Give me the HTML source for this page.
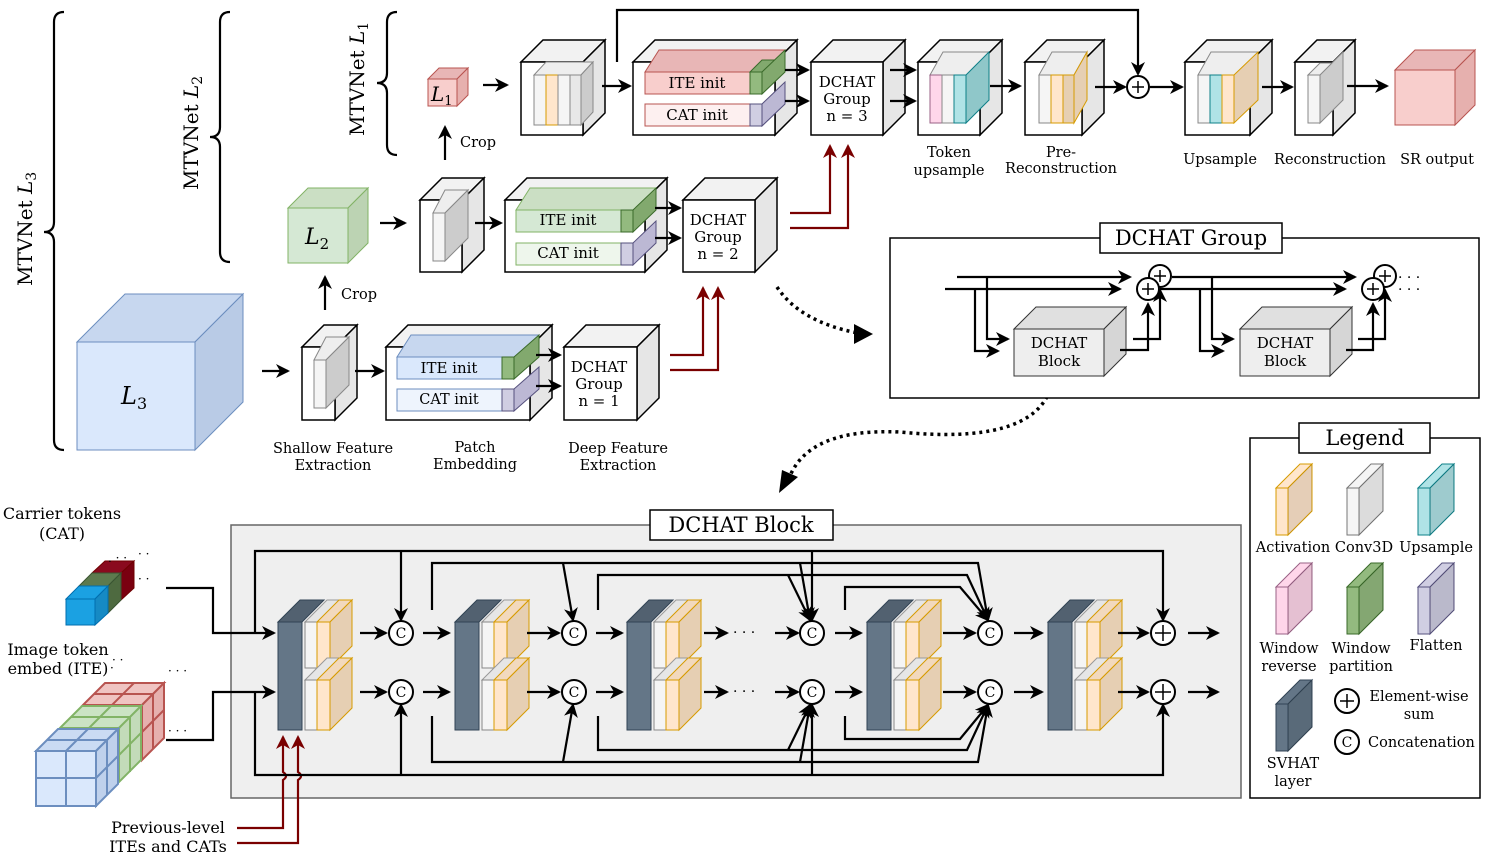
<!DOCTYPE html>
<html><head><meta charset="utf-8"><style>
html,body{margin:0;padding:0;background:#fff}
svg{display:block}
text{font-family:"DejaVu Serif","Liberation Serif",serif;fill:#000}
.t{font-size:15px}
.m{font-size:14.5px}
.ln{fill:none;stroke:#000;stroke-width:2.2}
.rd{fill:none;stroke:#7a0000;stroke-width:2.2}
</style></head><body>
<svg width="1495" height="859" viewBox="0 0 1495 859" xmlns="http://www.w3.org/2000/svg">
<defs>
<marker id="a" markerWidth="14" markerHeight="14" refX="12" refY="7" orient="auto" markerUnits="userSpaceOnUse"><path d="M0,0 L14,7 L0,14 L4,7 z" fill="#000"/></marker>
<marker id="r" markerWidth="14" markerHeight="14" refX="12" refY="7" orient="auto" markerUnits="userSpaceOnUse"><path d="M0,0 L14,7 L0,14 L4,7 z" fill="#7a0000"/></marker>
<g id="svhat">
  <polygon points="0,22 22,0 46,0 24,22" fill="#526170" stroke="#314354"/>
  <rect x="0" y="22" width="24" height="108" fill="#647687" stroke="#314354"/>
  <g>
    <polygon points="27,22 49,0 74,0 52,22" fill="#e6e6e6" stroke="#999"/>
    <rect x="27" y="22" width="12" height="46" fill="#f5f5f5" stroke="#888"/>
    <polygon points="39,22 61,0 74,0 52,22" fill="#f2d9bd" stroke="#d79b00"/>
    <rect x="39" y="22" width="13" height="46" fill="#ffe6cc" stroke="#d79b00"/>
    <polygon points="52,22 74,0 74,46 52,68" fill="#e6cfb3" stroke="#d79b00"/>
  </g>
  <g transform="translate(0,58)">
    <polygon points="27,22 49,0 74,0 52,22" fill="#e6e6e6" stroke="#999"/>
    <rect x="27" y="22" width="12" height="50" fill="#f5f5f5" stroke="#888"/>
    <polygon points="39,22 61,0 74,0 52,22" fill="#f2d9bd" stroke="#d79b00"/>
    <rect x="39" y="22" width="13" height="50" fill="#ffe6cc" stroke="#d79b00"/>
    <polygon points="52,22 74,0 74,50 52,72" fill="#e6cfb3" stroke="#d79b00"/>
  </g>
</g>
<g id="lslab">
  <polygon points="0,24 24,0 36,0 12,24" fill="inherit"/>
  <rect x="0" y="24" width="12" height="47"/>
  <polygon points="12,24 36,0 36,47 12,71"/>
  <polygon points="12,24 36,0 36,47 12,71" fill="#000" fill-opacity="0.1" stroke="none"/>
</g>
</defs>

<!-- Braces -->
<path d="M64,12 Q54,12 54,22 L54,222 Q54,232 44,232 Q54,232 54,242 L54,440 Q54,450 64,450" class="ln"/>
<text transform="translate(32,286) rotate(-90)" font-size="20">MTVNet <tspan font-style="italic">L</tspan><tspan font-size="14" dy="4">3</tspan></text>
<path d="M230,12 Q220,12 220,22 L220,127 Q220,137 210,137 Q220,137 220,147 L220,252 Q220,262 230,262" class="ln"/>
<text transform="translate(198,190) rotate(-90)" font-size="20">MTVNet <tspan font-style="italic">L</tspan><tspan font-size="14" dy="4">2</tspan></text>
<path d="M397,12 Q387,12 387,22 L387,73 Q387,83 377,83 Q387,83 387,93 L387,145 Q387,155 397,155" class="ln"/>
<text transform="translate(364,136) rotate(-90)" font-size="20">MTVNet <tspan font-style="italic">L</tspan><tspan font-size="14" dy="4">1</tspan></text>

<!-- L1 row -->
<polygon points="428,79 439,68 468,68 457,79" fill="#e8b6b6" stroke="#b85450"/>
<polygon points="457,79 468,68 468,95 457,106" fill="#e6b0ae" stroke="#b85450"/>
<rect x="428" y="79" width="29" height="27" fill="#f8cecc" stroke="#b85450"/>
<text x="431" y="101" font-size="20" font-style="italic">L<tspan font-size="13" dy="4" font-style="normal">1</tspan></text>
<line x1="483" y1="85" x2="507" y2="85" class="ln" marker-end="url(#a)"/>
<line x1="445" y1="160" x2="445" y2="127" class="ln" marker-end="url(#a)"/>
<text x="460" y="147" class="m">Crop</text>

<!-- shallow cube L1 -->
<polygon points="521,62 543,40 605,40 583,62" fill="#f2f2f2" stroke="#000" stroke-width="1.5"/>
<polygon points="583,62 605,40 605,113 583,135" fill="#e6e6e6" stroke="#000" stroke-width="1.5"/>
<rect x="521" y="62" width="62" height="73" fill="#fff" stroke="#000" stroke-width="1.5"/>
<polygon points="534,75 546,62 593,62 581,75" fill="#eee" stroke="#888"/>
<polygon points="581,75 593,62 593,112 581,125" fill="#ccc" stroke="#888"/>
<rect x="534" y="75" width="12" height="50" fill="#f5f5f5" stroke="#888"/>
<rect x="546" y="75" width="12" height="50" fill="#ffe6cc" stroke="#d79b00"/>
<rect x="558" y="75" width="12" height="50" fill="#f5f5f5" stroke="#888"/>
<rect x="570" y="75" width="11" height="50" fill="#e8e8e8" stroke="#888"/>
<path d="M617,62 L617,10 L1138,10 L1138,74" class="ln" marker-end="url(#a)"/>
<line x1="602" y1="86" x2="630" y2="86" class="ln" marker-end="url(#a)"/>

<!-- patch emb L1 -->
<polygon points="633,62 655,40 797,40 775,62" fill="#f2f2f2" stroke="#000" stroke-width="1.5"/>
<polygon points="775,62 797,40 797,113 775,135" fill="#e6e6e6" stroke="#000" stroke-width="1.5"/>
<rect x="633" y="62" width="142" height="73" fill="#fff" stroke="#000" stroke-width="1.5"/>
<polygon points="645,72 659,50 785,50 771,72" fill="#e8b6b6" stroke="#b85450"/>
<rect x="645" y="72" width="105" height="22" fill="#f8cecc" stroke="#b85450"/>
<rect x="750" y="72" width="12" height="22" fill="#93ba7f" stroke="#3a6a2a"/>
<polygon points="750,72 762,60 785,60 762,72" fill="#82a96e" stroke="#3a6a2a"/>
<polygon points="762,72 785,50 785,72 762,94" fill="#82a96e" stroke="#3a6a2a"/>
<rect x="645" y="104" width="105" height="22" fill="#fdf0f0" stroke="#b85450"/>
<rect x="750" y="104" width="12" height="22" fill="#d0cee2" stroke="#56517e"/>
<polygon points="762,104 785,82 785,104 762,126" fill="#bcb8d4" stroke="#56517e"/>
<text x="697" y="88" class="t" text-anchor="middle">ITE init</text>
<text x="697" y="120" class="t" text-anchor="middle">CAT init</text>
<line x1="785" y1="70" x2="808" y2="70" class="ln" marker-end="url(#a)"/>
<line x1="785" y1="101" x2="808" y2="101" class="ln" marker-end="url(#a)"/>

<!-- DCHAT n=3 -->
<polygon points="811,62 833,40 905,40 883,62" fill="#f2f2f2" stroke="#000" stroke-width="1.5"/>
<polygon points="883,62 905,40 905,113 883,135" fill="#e6e6e6" stroke="#000" stroke-width="1.5"/>
<rect x="811" y="62" width="72" height="73" fill="#fff" stroke="#000" stroke-width="1.5"/>
<text x="847" y="87" class="t" text-anchor="middle">DCHAT</text>
<text x="847" y="104" class="t" text-anchor="middle">Group</text>
<text x="847" y="121" class="t" text-anchor="middle">n = 3</text>
<line x1="890" y1="70" x2="915" y2="70" class="ln" marker-end="url(#a)"/>
<line x1="890" y1="101" x2="915" y2="101" class="ln" marker-end="url(#a)"/>

<!-- Token upsample -->
<polygon points="918,62 940,40 1002,40 980,62" fill="#f2f2f2" stroke="#000" stroke-width="1.5"/>
<polygon points="980,62 1002,40 1002,113 980,135" fill="#e6e6e6" stroke="#000" stroke-width="1.5"/>
<rect x="918" y="62" width="62" height="73" fill="#fff" stroke="#000" stroke-width="1.5"/>
<polygon points="930,75 943,52 989,52 977,75" fill="#eee" stroke="#888"/>
<polygon points="966,75 989,52 989,100 966,123" fill="#8fc7c9" stroke="#0e8088"/>
<rect x="930" y="75" width="12" height="48" fill="#ffd6ea" stroke="#996185"/>
<rect x="942" y="75" width="12" height="48" fill="#f5f5f5" stroke="#888"/>
<rect x="954" y="75" width="12" height="48" fill="#b0e3e6" stroke="#0e8088"/>
<text x="949" y="157" class="m" text-anchor="middle">Token</text>
<text x="949" y="175" class="m" text-anchor="middle">upsample</text>
<line x1="990" y1="86" x2="1020" y2="86" class="ln" marker-end="url(#a)"/>

<!-- Pre-recon -->
<polygon points="1025,62 1047,40 1104,40 1082,62" fill="#f2f2f2" stroke="#000" stroke-width="1.5"/>
<polygon points="1082,62 1104,40 1104,113 1082,135" fill="#e6e6e6" stroke="#000" stroke-width="1.5"/>
<rect x="1025" y="62" width="57" height="73" fill="#fff" stroke="#000" stroke-width="1.5"/>
<polygon points="1039,75 1052,52 1087,52 1074,75" fill="#eee" stroke="#888"/>
<polygon points="1074,75 1087,52 1087,100 1074,123" fill="#e6cfb3" stroke="#d79b00"/>
<rect x="1039" y="75" width="12" height="48" fill="#f5f5f5" stroke="#888"/>
<rect x="1051" y="75" width="12" height="48" fill="#ffe6cc" stroke="#d79b00"/>
<rect x="1063" y="75" width="11" height="48" fill="#e6cfb3" stroke="#d79b00"/>
<text x="1061" y="157" class="m" text-anchor="middle">Pre-</text>
<text x="1061" y="173" class="m" text-anchor="middle">Reconstruction</text>
<line x1="1095" y1="87" x2="1125" y2="87" class="ln" marker-end="url(#a)"/>
<circle cx="1138" cy="87" r="11" fill="#fff" stroke="#000" stroke-width="2"/>
<path d="M1132,87 h12 M1138,81 v12" stroke="#000" stroke-width="1.5"/>
<line x1="1150" y1="87" x2="1182" y2="87" class="ln" marker-end="url(#a)"/>

<!-- Upsample -->
<polygon points="1185,62 1207,40 1272,40 1250,62" fill="#f2f2f2" stroke="#000" stroke-width="1.5"/>
<polygon points="1250,62 1272,40 1272,113 1250,135" fill="#e6e6e6" stroke="#000" stroke-width="1.5"/>
<rect x="1185" y="62" width="65" height="73" fill="#fff" stroke="#000" stroke-width="1.5"/>
<polygon points="1198,75 1211,52 1258,52 1245,75" fill="#eee" stroke="#888"/>
<polygon points="1234,75 1258,52 1258,100 1234,123" fill="#e6cfb3" stroke="#d79b00"/>
<rect x="1198" y="75" width="12" height="48" fill="#f5f5f5" stroke="#888"/>
<rect x="1210" y="75" width="12" height="48" fill="#b0e3e6" stroke="#0e8088"/>
<rect x="1222" y="75" width="12" height="48" fill="#ffe6cc" stroke="#d79b00"/>
<text x="1220" y="164" class="m" text-anchor="middle">Upsample</text>
<line x1="1262" y1="87" x2="1292" y2="87" class="ln" marker-end="url(#a)"/>

<!-- Reconstruction -->
<polygon points="1295,62 1317,40 1355,40 1333,62" fill="#f2f2f2" stroke="#000" stroke-width="1.5"/>
<polygon points="1333,62 1355,40 1355,113 1333,135" fill="#e6e6e6" stroke="#000" stroke-width="1.5"/>
<rect x="1295" y="62" width="38" height="73" fill="#fff" stroke="#000" stroke-width="1.5"/>
<polygon points="1308,75 1320,63 1343,63 1320,75" fill="#eee" stroke="#888"/>
<polygon points="1320,75 1343,52 1343,100 1320,123" fill="#ccc" stroke="#888"/>
<rect x="1308" y="75" width="12" height="48" fill="#f5f5f5" stroke="#888"/>
<text x="1330" y="164" class="m" text-anchor="middle">Reconstruction</text>
<line x1="1347" y1="86" x2="1387" y2="86" class="ln" marker-end="url(#a)"/>

<!-- SR output -->
<polygon points="1395,70 1415,50 1475,50 1455,70" fill="#e8b6b6" stroke="#b85450"/>
<polygon points="1455,70 1475,50 1475,105 1455,125" fill="#e6b0ae" stroke="#b85450"/>
<rect x="1395" y="70" width="60" height="55" fill="#f8cecc" stroke="#b85450"/>
<text x="1437" y="164" class="m" text-anchor="middle">SR output</text>

<!-- L2 row -->
<polygon points="288,208 308,188 368,188 348,208" fill="#cbdfc4" stroke="#82b366"/>
<polygon points="348,208 368,188 368,243 348,263" fill="#bcd3b3" stroke="#82b366"/>
<rect x="288" y="208" width="60" height="55" fill="#d5e8d4" stroke="#82b366"/>
<text x="305" y="244" font-size="22" font-style="italic">L<tspan font-size="15" dy="5" font-style="normal">2</tspan></text>
<line x1="325" y1="310" x2="325" y2="277" class="ln" marker-end="url(#a)"/>
<text x="341" y="299" class="m">Crop</text>
<line x1="380" y1="223" x2="405" y2="223" class="ln" marker-end="url(#a)"/>

<polygon points="420,200 442,178 484,178 462,200" fill="#f2f2f2" stroke="#000" stroke-width="1.5"/>
<polygon points="462,200 484,178 484,250 462,272" fill="#e6e6e6" stroke="#000" stroke-width="1.5"/>
<rect x="420" y="200" width="42" height="72" fill="#fff" stroke="#000" stroke-width="1.5"/>
<polygon points="433,213 445,190 468,190 445,213" fill="#eee" stroke="#888"/>
<polygon points="445,213 468,190 468,238 445,261" fill="#ccc" stroke="#888"/>
<rect x="433" y="213" width="12" height="48" fill="#f5f5f5" stroke="#888"/>
<line x1="475" y1="223" x2="501" y2="223" class="ln" marker-end="url(#a)"/>

<polygon points="505,200 527,178 667,178 645,200" fill="#f2f2f2" stroke="#000" stroke-width="1.5"/>
<polygon points="645,200 667,178 667,250 645,272" fill="#e6e6e6" stroke="#000" stroke-width="1.5"/>
<rect x="505" y="200" width="140" height="72" fill="#fff" stroke="#000" stroke-width="1.5"/>
<polygon points="516,210 530,188 656,188 642,210" fill="#cbdfc4" stroke="#82b366"/>
<rect x="516" y="210" width="105" height="22" fill="#d5e8d4" stroke="#82b366"/>
<rect x="621" y="210" width="12" height="22" fill="#93ba7f" stroke="#3a6a2a"/>
<polygon points="633,210 656,188 656,210 633,232" fill="#82a96e" stroke="#3a6a2a"/>
<rect x="516" y="243" width="105" height="22" fill="#eef6ec" stroke="#82b366"/>
<rect x="621" y="243" width="12" height="22" fill="#d0cee2" stroke="#56517e"/>
<polygon points="633,243 656,221 656,243 633,265" fill="#bcb8d4" stroke="#56517e"/>
<text x="568" y="225" class="t" text-anchor="middle">ITE init</text>
<text x="568" y="258" class="t" text-anchor="middle">CAT init</text>
<line x1="655" y1="208" x2="680" y2="208" class="ln" marker-end="url(#a)"/>
<line x1="655" y1="238" x2="680" y2="238" class="ln" marker-end="url(#a)"/>

<polygon points="683,200 705,178 777,178 755,200" fill="#f2f2f2" stroke="#000" stroke-width="1.5"/>
<polygon points="755,200 777,178 777,250 755,272" fill="#e6e6e6" stroke="#000" stroke-width="1.5"/>
<rect x="683" y="200" width="72" height="72" fill="#fff" stroke="#000" stroke-width="1.5"/>
<text x="718" y="225" class="t" text-anchor="middle">DCHAT</text>
<text x="718" y="242" class="t" text-anchor="middle">Group</text>
<text x="718" y="259" class="t" text-anchor="middle">n = 2</text>
<path d="M790,213 L830,213 L830,146" class="rd" marker-end="url(#r)"/>
<path d="M790,228 L848,228 L848,146" class="rd" marker-end="url(#r)"/>

<!-- L3 row -->
<polygon points="77,342 125,294 243,294 195,342" fill="#c7d7ef" stroke="#6c8ebf"/>
<polygon points="195,342 243,294 243,402 195,450" fill="#b9cbe6" stroke="#6c8ebf"/>
<rect x="77" y="342" width="118" height="108" fill="#dae8fc" stroke="#6c8ebf"/>
<text x="121" y="404" font-size="24" font-style="italic">L<tspan font-size="16" dy="5" font-style="normal">3</tspan></text>
<line x1="262" y1="371" x2="288" y2="371" class="ln" marker-end="url(#a)"/>

<polygon points="302,347 324,325 357,325 335,347" fill="#f2f2f2" stroke="#000" stroke-width="1.5"/>
<polygon points="335,347 357,325 357,398 335,420" fill="#e6e6e6" stroke="#000" stroke-width="1.5"/>
<rect x="302" y="347" width="33" height="73" fill="#fff" stroke="#000" stroke-width="1.5"/>
<polygon points="314,360 326,337 349,337 326,360" fill="#eee" stroke="#888"/>
<polygon points="326,360 349,337 349,385 326,408" fill="#ccc" stroke="#888"/>
<rect x="314" y="360" width="12" height="48" fill="#f5f5f5" stroke="#888"/>
<line x1="355" y1="371" x2="383" y2="371" class="ln" marker-end="url(#a)"/>
<text x="333" y="453" class="m" text-anchor="middle">Shallow Feature</text>
<text x="333" y="470" class="m" text-anchor="middle">Extraction</text>

<polygon points="386,347 408,325 552,325 530,347" fill="#f2f2f2" stroke="#000" stroke-width="1.5"/>
<polygon points="530,347 552,325 552,398 530,420" fill="#e6e6e6" stroke="#000" stroke-width="1.5"/>
<rect x="386" y="347" width="144" height="73" fill="#fff" stroke="#000" stroke-width="1.5"/>
<polygon points="397,357 411,335 539,335 525,357" fill="#c7d7ef" stroke="#6c8ebf"/>
<rect x="397" y="357" width="105" height="22" fill="#dae8fc" stroke="#6c8ebf"/>
<rect x="502" y="357" width="12" height="22" fill="#93ba7f" stroke="#3a6a2a"/>
<polygon points="514,357 539,335 539,357 514,379" fill="#82a96e" stroke="#3a6a2a"/>
<rect x="397" y="389" width="105" height="22" fill="#eef4fd" stroke="#6c8ebf"/>
<rect x="502" y="389" width="12" height="22" fill="#d0cee2" stroke="#56517e"/>
<polygon points="514,389 539,367 539,389 514,411" fill="#bcb8d4" stroke="#56517e"/>
<text x="449" y="373" class="t" text-anchor="middle">ITE init</text>
<text x="449" y="404" class="m" text-anchor="middle">CAT init</text>
<line x1="536" y1="355" x2="560" y2="355" class="ln" marker-end="url(#a)"/>
<line x1="536" y1="386" x2="560" y2="386" class="ln" marker-end="url(#a)"/>
<text x="475" y="452" class="m" text-anchor="middle">Patch</text>
<text x="475" y="469" class="m" text-anchor="middle">Embedding</text>

<polygon points="564,347 586,325 659,325 637,347" fill="#f2f2f2" stroke="#000" stroke-width="1.5"/>
<polygon points="637,347 659,325 659,398 637,420" fill="#e6e6e6" stroke="#000" stroke-width="1.5"/>
<rect x="564" y="347" width="73" height="73" fill="#fff" stroke="#000" stroke-width="1.5"/>
<text x="599" y="372" class="t" text-anchor="middle">DCHAT</text>
<text x="599" y="389" class="t" text-anchor="middle">Group</text>
<text x="599" y="406" class="t" text-anchor="middle">n = 1</text>
<text x="618" y="453" class="m" text-anchor="middle">Deep Feature</text>
<text x="618" y="470" class="m" text-anchor="middle">Extraction</text>
<path d="M670,355 L703,355 L703,288" class="rd" marker-end="url(#r)"/>
<path d="M670,370 L718,370 L718,288" class="rd" marker-end="url(#r)"/>

<!-- dotted arrows -->
<path d="M777,287 Q800,322 858,333" fill="none" stroke="#000" stroke-width="3.5" stroke-dasharray="3,4"/>
<path d="M854,324 L873,334 L854,344 z" fill="#000"/>
<path d="M1050,390 Q1030,445 900,432 Q810,428 790,476" fill="none" stroke="#000" stroke-width="3.5" stroke-dasharray="3,4"/>
<path d="M779,493 L782,470 L798,477 z" fill="#000"/>

<!-- DCHAT Group box -->
<rect x="890" y="238" width="589" height="160" fill="#fff" stroke="#000" stroke-width="1.5"/>
<rect x="1100" y="223" width="182" height="30" fill="#fff" stroke="#000" stroke-width="1.5"/>
<text x="1191" y="245" font-size="21" text-anchor="middle">DCHAT Group</text>
<g>
<line x1="957" y1="277" x2="1130" y2="277" class="ln" marker-end="url(#a)"/>
<line x1="945" y1="289" x2="1120" y2="289" class="ln" marker-end="url(#a)"/>
<path d="M987,277 L987,339 L1008,339" class="ln" marker-end="url(#a)"/>
<path d="M975,289 L975,351 L998,351" class="ln" marker-end="url(#a)"/>
<polygon points="1014,329 1036,307 1126,307 1104,329" fill="#e0e0e0" stroke="#333"/>
<polygon points="1104,329 1126,307 1126,354 1104,376" fill="#d6d6d6" stroke="#333"/>
<rect x="1014" y="329" width="90" height="47" fill="#eeeeee" stroke="#333"/>
<text x="1059" y="348" class="t" text-anchor="middle">DCHAT</text>
<text x="1059" y="366" class="t" text-anchor="middle">Block</text>
<path d="M1120,350 L1148,350 L1148,304" class="ln" marker-end="url(#a)"/>
<path d="M1133,339 L1160,339 L1160,290" class="ln" marker-end="url(#a)"/>
<circle cx="1160" cy="276" r="11" fill="#fff" stroke="#000" stroke-width="2"/>
<path d="M1154,276 h12 M1160,270 v12" stroke="#000" stroke-width="1.5"/>
<circle cx="1148" cy="289" r="11" fill="#fff" stroke="#000" stroke-width="2"/>
<path d="M1142,289 h12 M1148,283 v12" stroke="#000" stroke-width="1.5"/>
</g>
<g>
<line x1="1172" y1="277" x2="1355" y2="277" class="ln" marker-end="url(#a)"/>
<line x1="1160" y1="289" x2="1345" y2="289" class="ln" marker-end="url(#a)"/>
<path d="M1212,277 L1212,339 L1233,339" class="ln" marker-end="url(#a)"/>
<path d="M1200,289 L1200,351 L1223,351" class="ln" marker-end="url(#a)"/>
<polygon points="1240,329 1262,307 1352,307 1330,329" fill="#e0e0e0" stroke="#333"/>
<polygon points="1330,329 1352,307 1352,354 1330,376" fill="#d6d6d6" stroke="#333"/>
<rect x="1240" y="329" width="90" height="47" fill="#eeeeee" stroke="#333"/>
<text x="1285" y="348" class="t" text-anchor="middle">DCHAT</text>
<text x="1285" y="366" class="t" text-anchor="middle">Block</text>
<path d="M1346,350 L1373,350 L1373,304" class="ln" marker-end="url(#a)"/>
<path d="M1358,339 L1385,339 L1385,290" class="ln" marker-end="url(#a)"/>
<circle cx="1385" cy="276" r="11" fill="#fff" stroke="#000" stroke-width="2"/>
<path d="M1379,276 h12 M1385,270 v12" stroke="#000" stroke-width="1.5"/>
<circle cx="1373" cy="289" r="11" fill="#fff" stroke="#000" stroke-width="2"/>
<path d="M1367,289 h12 M1373,283 v12" stroke="#000" stroke-width="1.5"/>
<text x="1398" y="282" font-size="14">· · ·</text>
<text x="1398" y="294" font-size="14">· · ·</text>
</g>

<!-- Legend -->
<rect x="1250" y="438" width="230" height="360" fill="#fff" stroke="#000" stroke-width="1.5"/>
<rect x="1299" y="423" width="131" height="30" fill="#fff" stroke="#000" stroke-width="1.5"/>
<text x="1365" y="445" font-size="21" text-anchor="middle">Legend</text>
<use href="#lslab" x="1276" y="464" fill="#ffe6cc" stroke="#d79b00"/>
<use href="#lslab" x="1347" y="464" fill="#f5f5f5" stroke="#777"/>
<use href="#lslab" x="1418" y="464" fill="#b0e3e6" stroke="#0e8088"/>
<use href="#lslab" x="1276" y="563" fill="#ffd6ea" stroke="#996185"/>
<use href="#lslab" x="1347" y="563" fill="#93ba7f" stroke="#3a6a2a"/>
<use href="#lslab" x="1418" y="563" fill="#d0cee2" stroke="#56517e"/>
<use href="#lslab" x="1276" y="680" fill="#647687" stroke="#314354"/>
<text x="1293" y="552" class="m" text-anchor="middle">Activation</text>
<text x="1364" y="552" class="m" text-anchor="middle">Conv3D</text>
<text x="1436" y="552" class="m" text-anchor="middle">Upsample</text>
<text x="1289" y="653" class="m" text-anchor="middle">Window</text>
<text x="1289" y="671" class="m" text-anchor="middle">reverse</text>
<text x="1361" y="653" class="m" text-anchor="middle">Window</text>
<text x="1361" y="671" class="m" text-anchor="middle">partition</text>
<text x="1436" y="650" class="m" text-anchor="middle">Flatten</text>
<text x="1293" y="768" class="m" text-anchor="middle">SVHAT</text>
<text x="1293" y="786" class="m" text-anchor="middle">layer</text>
<circle cx="1347" cy="701" r="12" fill="#fff" stroke="#000" stroke-width="2"/>
<path d="M1340,701 h14 M1347,694 v14" stroke="#000" stroke-width="1.5"/>
<text x="1419" y="701" class="m" text-anchor="middle">Element-wise</text>
<text x="1419" y="719" class="m" text-anchor="middle">sum</text>
<circle cx="1347" cy="742" r="12" fill="#fff" stroke="#000" stroke-width="2"/>
<text x="1347" y="747" font-size="14" text-anchor="middle">C</text>
<text x="1368" y="747" class="m">Concatenation</text>

<!-- DCHAT Block box -->
<rect x="231" y="525" width="1010" height="273" fill="#efefef" stroke="#666" stroke-width="1.5"/>
<rect x="650" y="510" width="183" height="30" fill="#fff" stroke="#000" stroke-width="1.5"/>
<text x="741" y="532" font-size="21" text-anchor="middle">DCHAT Block</text>

<!-- left inputs -->
<text x="62" y="519" font-size="16" text-anchor="middle">Carrier tokens</text>
<text x="62" y="539" font-size="16" text-anchor="middle">(CAT)</text>
<polygon points="92,573 105,561 134,561 121,573" fill="#8a0a1e" stroke="#6f0000"/>
<polygon points="121,573 134,561 134,588 121,600" fill="#7a0010" stroke="#6f0000"/>
<polygon points="79,586 92,573 121,573 108,586" fill="#5d7a4e" stroke="#3a5431"/>
<polygon points="108,586 121,573 121,600 108,613" fill="#4e6a40" stroke="#3a5431"/>
<polygon points="66,599 79,586 108,586 95,599" fill="#1ba1e2" stroke="#006eaf"/>
<polygon points="95,599 108,586 108,613 95,625" fill="#168ac4" stroke="#006eaf"/>
<rect x="66" y="599" width="29" height="26" fill="#1ba1e2" stroke="#006eaf"/>
<text x="108" y="562" font-size="12">. · ·</text>
<text x="138" y="558" font-size="12">· ·</text>
<text x="138" y="583" font-size="12">· ·</text>
<path d="M166,588 L213,588 L213,633 L274,633" class="ln" marker-end="url(#a)"/>
<text x="58" y="655" font-size="16" text-anchor="middle">Image token</text>
<text x="58" y="674" font-size="16" text-anchor="middle">embed (ITE)</text>
<text x="110" y="672" font-size="12">·</text><text x="112" y="664" font-size="12">· ·</text>
<text x="168" y="675" font-size="12">· · ·</text>
<text x="168" y="735" font-size="12">· · ·</text>
<!-- ITE cubes -->
<g stroke-width="2">
<polygon points="83,705 105,683 164,683 142,705" fill="#f0c4c2" stroke="#b85450"/>
<polygon points="142,705 164,683 164,738 142,760" fill="#e6b0ae" stroke="#b85450"/>
<path d="M94,694 h59 M134,683 l-22,22 M153,694 v55 M142,732 l22,-22" stroke="#b85450" fill="none"/>
<polygon points="60,728 82,706 141,706 119,728" fill="#cbe3c4" stroke="#82b366"/>
<polygon points="119,728 141,706 141,760 119,782" fill="#c3dbb9" stroke="#82b366"/>
<path d="M71,717 h59 M111,706 l-22,22 M130,717 v55 M119,755 l22,-22" stroke="#82b366" fill="none"/>
<polygon points="36,751 58,729 118,729 96,751" fill="#cadbf3" stroke="#6c8ebf"/>
<polygon points="96,751 118,729 118,784 96,806" fill="#bfd1ec" stroke="#6c8ebf"/>
<rect x="36" y="751" width="60" height="55" fill="#dae8fc" stroke="#6c8ebf"/>
<path d="M47,740 h60 M88,729 l-22,22 M66,751 v55 M36,778 h60 M107,740 v55 M96,778 l22,-22" stroke="#6c8ebf" fill="none"/>
</g>
<path d="M166,740 L213,740 L213,692 L274,692" class="ln" marker-end="url(#a)"/>

<!-- previous level -->
<text x="168" y="833" font-size="16" text-anchor="middle">Previous-level</text>
<text x="168" y="852" font-size="16" text-anchor="middle">ITEs and CATs</text>
<path d="M237,828 L283,828 L283,780 q6,-4 0,-8 L283,737" class="rd" marker-end="url(#r)"/>
<path d="M237,843 L298,843 L298,780 q6,-4 0,-8 L298,737" class="rd" marker-end="url(#r)"/>

<!-- connection lines in block -->
<path d="M255,633 L255,551 L1163,551 L1163,620" class="ln" marker-end="url(#a)"/>
<path d="M401,551 L401,620" class="ln" marker-end="url(#a)"/>
<path d="M812,551 L812,620" class="ln" marker-end="url(#a)"/>
<path d="M255,692 L255,775 L1163,775 L1163,705" class="ln" marker-end="url(#a)"/>
<path d="M401,775 L401,705" class="ln" marker-end="url(#a)"/>
<path d="M812,775 L812,705" class="ln" marker-end="url(#a)"/>
<path d="M432,610 L432,563 L978,563 L988,620" class="ln" marker-end="url(#a)"/>
<path d="M563,563 L573,620" class="ln" marker-end="url(#a)"/>
<path d="M800,563 L810,620" class="ln" marker-end="url(#a)"/>
<path d="M432,716 L432,762 L978,762 L988,705" class="ln" marker-end="url(#a)"/>
<path d="M563,762 L573,705" class="ln" marker-end="url(#a)"/>
<path d="M800,762 L810,705" class="ln" marker-end="url(#a)"/>
<path d="M598,610 L598,575 L967,575 L988,620" class="ln" marker-end="url(#a)"/>
<path d="M598,716 L598,750 L967,750 L988,705" class="ln" marker-end="url(#a)"/>
<path d="M788,575 L810,620" class="ln" marker-end="url(#a)"/>
<path d="M788,750 L810,705" class="ln" marker-end="url(#a)"/>
<path d="M845,610 L845,587 L960,587 L988,620" class="ln" marker-end="url(#a)"/>
<path d="M845,716 L845,739 L960,739 L988,705" class="ln" marker-end="url(#a)"/>

<!-- units -->
<use href="#svhat" x="278" y="600"/>
<use href="#svhat" x="455" y="600"/>
<use href="#svhat" x="627" y="600"/>
<use href="#svhat" x="867" y="600"/>
<use href="#svhat" x="1048" y="600"/>

<!-- circles -->
<g fill="#fff" stroke="#000" stroke-width="2">
<circle cx="401" cy="633" r="12"/><circle cx="401" cy="692" r="12"/>
<circle cx="574" cy="633" r="12"/><circle cx="574" cy="692" r="12"/>
<circle cx="812" cy="633" r="12"/><circle cx="812" cy="692" r="12"/>
<circle cx="990" cy="633" r="12"/><circle cx="990" cy="692" r="12"/>
<circle cx="1163" cy="633" r="12"/><circle cx="1163" cy="692" r="12"/>
</g>
<g font-size="14" text-anchor="middle">
<text x="401" y="638">C</text><text x="401" y="697">C</text>
<text x="574" y="638">C</text><text x="574" y="697">C</text>
<text x="812" y="638">C</text><text x="812" y="697">C</text>
<text x="990" y="638">C</text><text x="990" y="697">C</text>
</g>
<path d="M1155,633 h16 M1163,625 v16 M1155,692 h16 M1163,684 v16" stroke="#000" stroke-width="1.5"/>

<!-- horizontal arrows -->
<g class="ln">
<line x1="360" y1="633" x2="386" y2="633" marker-end="url(#a)"/><line x1="360" y1="692" x2="386" y2="692" marker-end="url(#a)"/>
<line x1="423" y1="633" x2="449" y2="633" marker-end="url(#a)"/><line x1="423" y1="692" x2="449" y2="692" marker-end="url(#a)"/>
<line x1="527" y1="633" x2="559" y2="633" marker-end="url(#a)"/><line x1="527" y1="692" x2="559" y2="692" marker-end="url(#a)"/>
<line x1="596" y1="633" x2="622" y2="633" marker-end="url(#a)"/><line x1="596" y1="692" x2="622" y2="692" marker-end="url(#a)"/>
<line x1="704" y1="633" x2="727" y2="633" marker-end="url(#a)"/><line x1="704" y1="692" x2="727" y2="692" marker-end="url(#a)"/>
<line x1="775" y1="633" x2="798" y2="633" marker-end="url(#a)"/><line x1="775" y1="692" x2="798" y2="692" marker-end="url(#a)"/>
<line x1="835" y1="633" x2="861" y2="633" marker-end="url(#a)"/><line x1="835" y1="692" x2="861" y2="692" marker-end="url(#a)"/>
<line x1="943" y1="633" x2="975" y2="633" marker-end="url(#a)"/><line x1="943" y1="692" x2="975" y2="692" marker-end="url(#a)"/>
<line x1="1014" y1="633" x2="1042" y2="633" marker-end="url(#a)"/><line x1="1014" y1="692" x2="1042" y2="692" marker-end="url(#a)"/>
<line x1="1118" y1="633" x2="1148" y2="633" marker-end="url(#a)"/><line x1="1118" y1="692" x2="1148" y2="692" marker-end="url(#a)"/>
<line x1="1188" y1="633" x2="1218" y2="633" marker-end="url(#a)"/><line x1="1188" y1="692" x2="1218" y2="692" marker-end="url(#a)"/>
</g>
<text x="733" y="637" font-size="14">· · ·</text>
<text x="733" y="696" font-size="14">· · ·</text>
</svg>
</body></html>
